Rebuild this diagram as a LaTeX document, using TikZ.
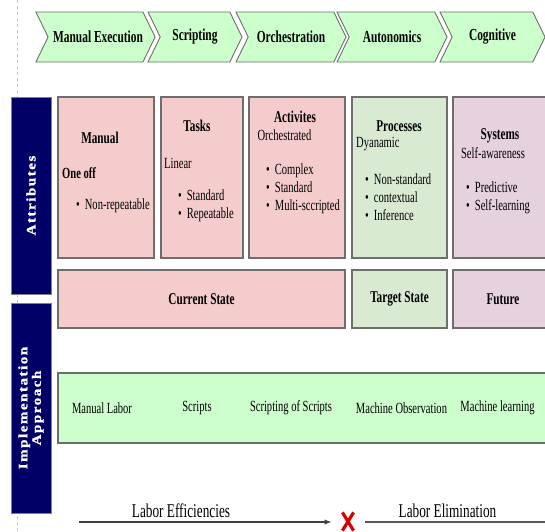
\documentclass[tikz,border=0pt]{standalone}
\usepackage{fontspec}
\setmainfont{Liberation Serif}[FakeStretch=0.68]
\newfontfamily\sidefont{Liberation Serif Bold}[FakeStretch=1.15,LetterSpace=12,FakeBold=1.5]
\usepackage{tikz}
\usetikzlibrary{shapes.symbols, shapes.misc, arrows}

\definecolor{chevgreen}{HTML}{CCFFCC}
\definecolor{pinkbox}{HTML}{F4CCCC}
\definecolor{greenbox}{HTML}{D9EAD3}
\definecolor{purplebox}{HTML}{E6D1DF}
\definecolor{navybar}{HTML}{000066}
\definecolor{edgegray}{HTML}{6E6E6E}

\begin{document}
\begin{tikzpicture}[x=1pt,y=-1pt,
	stage/.style={signal, signal from=west, signal to=east, signal pointer angle=128, draw=edgegray, line width=0.9pt, fill=chevgreen, minimum height=50pt, inner sep=0pt, font=\fontsize{16.8}{18}\selectfont\bfseries},
	cell/.style={draw=edgegray, line width=1.2pt, inner sep=0pt},
	bar/.style={draw=gray, line width=0.8pt, fill=navybar, minimum width=40pt, inner sep=0pt},
	sidelabel/.style={rotate=90, text=white, align=center, font=\sidefont\fontsize{13}{13.5}\selectfont},
	head/.style={inner sep=0pt, font=\fontsize{16.5}{19}\selectfont\bfseries},
	body/.style={inner sep=0pt, align=left, font=\fontsize{15.5}{18}\selectfont},
	big/.style={inner sep=0pt, font=\fontsize{19.5}{22}\selectfont}]
\useasboundingbox (0,0) rectangle (545,531);
\clip (0,0) rectangle (545,531);
	\draw[gray!45, dashed] (17,0) -- (17,531);
	% stages
	\node[stage, minimum width=115pt] (manualex) at (95.5,37) {\hspace{5pt}Manual Execution};
	\node[stage, minimum width=94pt] (scripting) at (195,37) {Scripting};
	\node[stage, minimum width=110pt] (orchestration) at (291,37) {Orchestration};
	\node[stage, minimum width=110pt] (autonomics) at (392,37) {Autonomics};
	\node[stage, minimum width=105pt] (cognitive) at (492.5,37) {Cognitive};
	% side bars
	\node[bar, minimum height=197pt] (attrbar) at (31,195.5) {};
	\node[bar, minimum height=210pt] (implbar) at (31,408) {};
	\node[sidelabel] (attrtxt) at (attrbar) {Attributes};
	\node[sidelabel] (impltxt) at (implbar) {Implementation\\Approach};
	% attribute cells
	\node[cell, fill=pinkbox, minimum width=96pt, minimum height=161pt] (manual) at (106,177.5) {};
	\node[cell, fill=pinkbox, minimum width=82pt, minimum height=161pt] (tasks) at (202,177.5) {};
	\node[cell, fill=pinkbox, minimum width=96pt, minimum height=161pt] (activities) at (297,177.5) {};
	\node[cell, fill=greenbox, minimum width=95pt, minimum height=161pt] (processes) at (399.5,177.5) {};
	\node[cell, fill=purplebox, minimum width=100pt, minimum height=161pt] (systems) at (503,177.5) {};
	% states
	\node[cell, fill=pinkbox, minimum width=287pt, minimum height=58pt] (current) at (201.5,299) {};
	\node[cell, fill=greenbox, minimum width=95pt, minimum height=58pt] (target) at (399.5,299) {};
	\node[cell, fill=purplebox, minimum width=100pt, minimum height=58pt] (future) at (503,299) {};
	\node[head] at (current) {Current State};
	\node[head] at (target) {Target State};
	\node[head] at (future) {Future};
	% approach
	\node[cell, fill=chevgreen, minimum width=497pt, minimum height=70pt] (approach) at (306.5,408) {};
	% cell texts
	\node[head] (manualhd) at (100,138) {Manual};
	\node[body, anchor=west, font=\fontsize{15.5}{18}\selectfont\bfseries] (oneoff) at (62,173) {One off};
	\node[body, anchor=west] (manuallist) at (76,206) {\textbullet\hspace{5pt}Non-repeatable};
	\node[head] (taskshd) at (197,126) {Tasks};
	\node[body, anchor=west] (linear) at (164,163) {Linear};
	\node[body, anchor=west] (tasklist) at (178,206) {\textbullet\hspace{5pt}Standard\\\textbullet\hspace{5pt}Repeatable};
	\node[head] (activhd) at (295,117) {Activites};
	\node[body] (orchest) at (284.5,135) {Orchestrated};
	\node[body, anchor=west] (activlist) at (266,188.5) {\textbullet\hspace{5pt}Complex\\\textbullet\hspace{5pt}Standard\\\textbullet\hspace{5pt}Multi-sccripted};
	\node[head] (prochd) at (399,126) {Processes};
	\node[body, anchor=west] (dynamic) at (356,144) {Dyanamic};
	\node[body, anchor=west] (proclist) at (365,197) {\textbullet\hspace{5pt}Non-standard\\\textbullet\hspace{5pt}contextual\\\textbullet\hspace{5pt}Inference};
	\node[head] (syshd) at (500,136) {Systems};
	\node[body] (selfaware) at (493,153) {Self-awareness};
	\node[body, anchor=west] (syslist) at (466,197.5) {\textbullet\hspace{5pt}Predictive\\\textbullet\hspace{5pt}Self-learning};
	% approach texts
	\node[body] (labor) at (102,408) {Manual Labor};
	\node[body] (scripts) at (197,408) {Scripts};
	\node[body] (scriptofs) at (291,408) {Scripting of Scripts};
	\node[body] (observe) at (401.5,408) {Machine Observation};
	\node[body] (learning) at (497.5,408) {Machine learning};
	% bottom
	\node[big] (efficiency) at (181,511) {Labor Efficiencies};
	\node[big] (elimination) at (447.5,511) {Labor Elimination};
	\node[cross out, draw=red!85!black, line width=3.2pt, minimum width=8pt, minimum height=15pt, inner sep=0pt] (stop) at (348,521.5) {};
	\coordinate (effstart) at (79,522);
	\coordinate (elimstart) at (365,522);
	\coordinate (elimend) at (545,522);
	\draw[-latex, line width=1.3pt, black!75] (effstart) -- ([xshift=-11pt]stop.west |- effstart);
	\draw[line width=1.3pt, black!65] (elimstart) -- (elimend);
\end{tikzpicture}
\end{document}
